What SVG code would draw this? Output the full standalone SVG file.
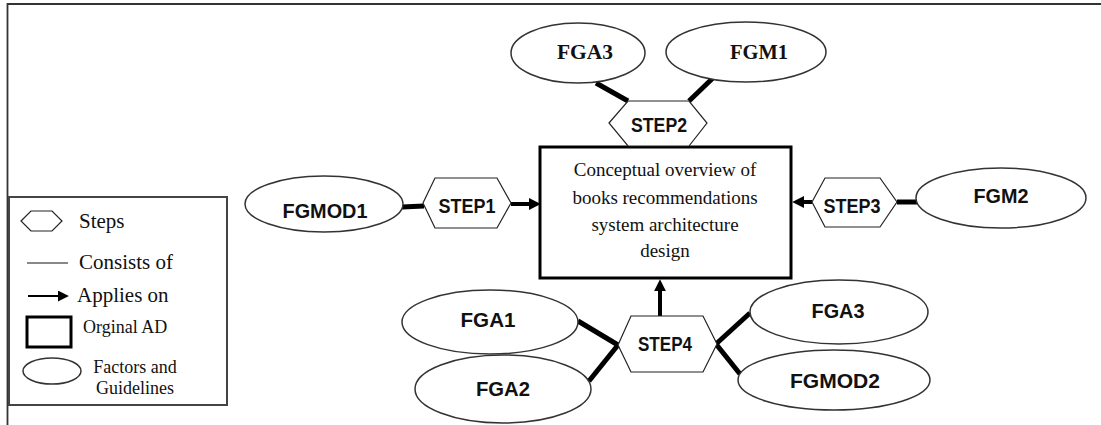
<svg xmlns="http://www.w3.org/2000/svg" width="1101" height="425" viewBox="0 0 1101 425">
  <defs>
    <style>
      .frame { fill: none; stroke: #333; stroke-width: 1.8; }
      .legbox { fill: #fff; stroke: #444; stroke-width: 2; }
      .ell { fill: #fff; stroke: #333; stroke-width: 1.5; }
      .hex { fill: #fff; stroke: #222; stroke-width: 1.2; }
      .box { fill: #fff; stroke: #000; stroke-width: 3; }
      .link { stroke: #000; stroke-width: 5; fill: none; }
      .arrow { stroke: #000; stroke-width: 4; fill: none; marker-end: url(#ah); }
      .sans { font-family: "Liberation Sans Narrow", "Liberation Sans", Arial, sans-serif; font-weight: bold; font-size: 21px; text-anchor: middle; fill: #111; }
      .serifb { font-family: "Liberation Serif", "Times New Roman", serif; font-weight: bold; font-size: 21px; text-anchor: middle; fill: #111; }
      .body { font-family: "Liberation Serif", "Times New Roman", serif; font-size: 19px; text-anchor: middle; fill: #111; }
      .leg { font-family: "Liberation Serif", "Times New Roman", serif; font-size: 21px; fill: #111; }
      .legs { font-family: "Liberation Serif", "Times New Roman", serif; font-size: 18px; fill: #111; }
    </style>
    <marker id="ah" viewBox="0 0 10 10" refX="1" refY="5" markerWidth="12" markerHeight="12" markerUnits="userSpaceOnUse" orient="auto">
      <path d="M0,0 L10,5 L0,10 z" fill="#000"/>
    </marker>
    <marker id="ahs" viewBox="0 0 10 10" refX="1" refY="5" markerWidth="11" markerHeight="11" markerUnits="userSpaceOnUse" orient="auto">
      <path d="M0,0 L10,5 L0,10 z" fill="#000"/>
    </marker>
  </defs>

  <rect width="1101" height="425" fill="#fff"/>

  <!-- outer frame: top and left edges -->
  <path class="frame" d="M7.5,425 V4 H1101"/>

  <!-- legend -->
  <g id="legend">
    <rect class="legbox" x="9" y="197" width="218" height="208"/>
    <polygon class="hex" points="21,221 31,211 52,211 62,221 52,231 31,231" stroke="#555"/>
    <text class="leg" x="79" y="228">Steps</text>
    <line x1="27" y1="263" x2="68" y2="263" stroke="#888" stroke-width="2"/>
    <text class="leg" x="79" y="269">Consists of</text>
    <line x1="28" y1="296" x2="59" y2="296" stroke="#000" stroke-width="2" marker-end="url(#ahs)"/>
    <text class="leg" x="77" y="302">Applies on</text>
    <rect x="27" y="317" width="44" height="30" fill="#fff" stroke="#000" stroke-width="3"/>
    <text class="legs" x="83" y="333">Orginal AD</text>
    <ellipse class="ell" cx="52" cy="371" rx="29" ry="13"/>
    <text class="legs" x="135" y="373" text-anchor="middle">Factors and</text>
    <text class="legs" x="135" y="394" text-anchor="middle">Guidelines</text>
  </g>

  <!-- connectors -->
  <g id="connectors">
    <line class="link" x1="596" y1="83" x2="628" y2="101"/>
    <line class="link" x1="715" y1="76" x2="689" y2="101"/>
    <line class="link" x1="402" y1="207" x2="424" y2="206"/>
    <line class="link" x1="897" y1="202" x2="918" y2="202"/>
    <line class="link" x1="578" y1="321" x2="618" y2="345"/>
    <line class="link" x1="618" y1="345" x2="589" y2="381"/>
    <line class="link" x1="716" y1="344" x2="750" y2="313"/>
    <line class="link" x1="716" y1="344" x2="740" y2="374"/>
    <line class="arrow" x1="511" y1="204" x2="530" y2="204"/>
    <line class="arrow" x1="812" y1="202" x2="803" y2="202"/>
    <line class="arrow" x1="660" y1="317" x2="660" y2="290"/>
    <circle cx="659" cy="147" r="2.2" fill="#000"/>
  </g>

  <!-- central architecture box -->
  <g id="main">
    <rect class="box" x="540" y="147" width="251" height="131"/>
    <text class="body" x="665" y="176">Conceptual overview of</text>
    <text class="body" x="665" y="204">books recommendations</text>
    <text class="body" x="665" y="231">system architecture</text>
    <text class="body" x="665" y="257">design</text>
  </g>

  <!-- steps -->
  <g id="step1">
    <polygon class="hex" points="423,203 435,178 497,178 511,203 497,228 435,228"/>
    <text class="sans" x="467" y="213" textLength="57" lengthAdjust="spacingAndGlyphs">STEP1</text>
  </g>
  <g id="step2">
    <polygon class="hex" points="609,123 628,101 689,101 707,123 689,146 628,146"/>
    <text class="sans" x="659" y="132" textLength="56" lengthAdjust="spacingAndGlyphs">STEP2</text>
  </g>
  <g id="step3">
    <polygon class="hex" points="812,202 825,178 880,178 897,202 880,227 825,227"/>
    <text class="sans" x="852" y="213" textLength="57" lengthAdjust="spacingAndGlyphs">STEP3</text>
  </g>
  <g id="step4">
    <polygon class="hex" points="618,345 631,316 703,316 717,344 703,372 631,372"/>
    <text class="sans" x="665" y="351" textLength="54" lengthAdjust="spacingAndGlyphs">STEP4</text>
  </g>

  <!-- factors and guidelines -->
  <g id="fga3-top">
    <ellipse class="ell" cx="578" cy="53" rx="67" ry="30"/>
    <text class="serifb" x="585" y="59" textLength="56" lengthAdjust="spacingAndGlyphs">FGA3</text>
  </g>
  <g id="fgm1">
    <ellipse class="ell" cx="746" cy="52" rx="80" ry="30"/>
    <text class="serifb" x="759" y="59" textLength="58" lengthAdjust="spacingAndGlyphs">FGM1</text>
  </g>
  <g id="fgmod1">
    <ellipse class="ell" cx="324" cy="204" rx="79" ry="28"/>
    <text class="sans" x="325" y="218" textLength="85" lengthAdjust="spacingAndGlyphs">FGMOD1</text>
  </g>
  <g id="fgm2">
    <ellipse class="ell" cx="1001" cy="198" rx="85" ry="30"/>
    <text class="sans" x="1001" y="203" textLength="55" lengthAdjust="spacingAndGlyphs">FGM2</text>
  </g>
  <g id="fga1">
    <ellipse class="ell" cx="490" cy="322" rx="88" ry="32"/>
    <text class="sans" x="488" y="327" textLength="55" lengthAdjust="spacingAndGlyphs">FGA1</text>
  </g>
  <g id="fga2">
    <ellipse class="ell" cx="503" cy="389" rx="88" ry="34"/>
    <text class="sans" x="503" y="396" textLength="54" lengthAdjust="spacingAndGlyphs">FGA2</text>
  </g>
  <g id="fga3-bottom">
    <ellipse class="ell" cx="839" cy="312" rx="89" ry="32"/>
    <text class="sans" x="838" y="318" textLength="53" lengthAdjust="spacingAndGlyphs">FGA3</text>
  </g>
  <g id="fgmod2">
    <ellipse class="ell" cx="834" cy="380" rx="96" ry="30"/>
    <text class="sans" x="835" y="388" textLength="90" lengthAdjust="spacingAndGlyphs">FGMOD2</text>
  </g>
</svg>
